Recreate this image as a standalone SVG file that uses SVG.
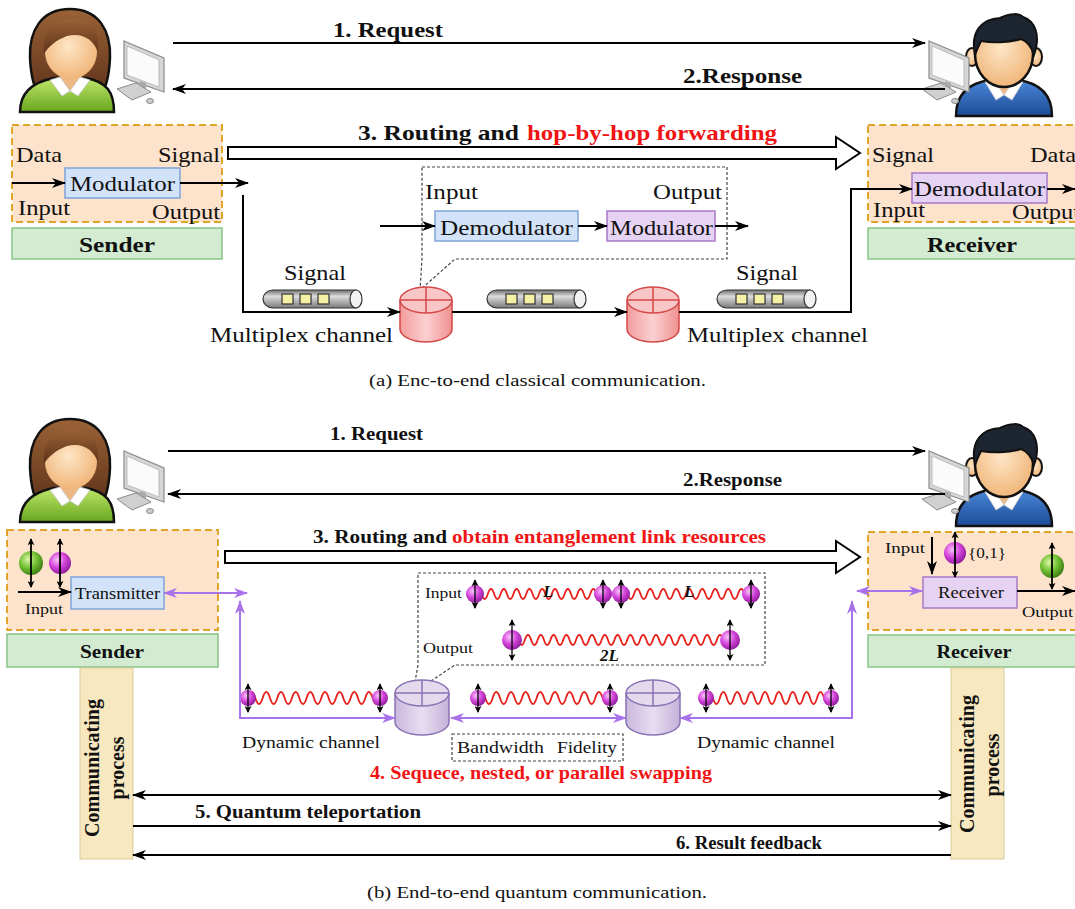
<svg xmlns="http://www.w3.org/2000/svg" width="1075" height="909" viewBox="0 0 1075 909">
<style>
 .t{font-family:"Liberation Serif","Times New Roman",serif;fill:#111}
 .b{font-weight:bold}
 .r{fill:#f01414}
 .ln{stroke:#000;stroke-width:2;fill:none}
 .pl{stroke:#a872ea;stroke-width:2;fill:none}
 .peach{fill:#fde2cc;stroke:#e0a528;stroke-width:2;stroke-dasharray:7 4}
 .grn{fill:#d3ebd1;stroke:#86c486;stroke-width:1.5}
 .blu{fill:#d2e2f8;stroke:#7fa4d8;stroke-width:1.5}
 .pur{fill:#e6d2f2;stroke:#a878c8;stroke-width:1.5}
 .dsh{fill:none;stroke:#444;stroke-width:1.2;stroke-dasharray:3 2}
 .wave{stroke:#e8201c;stroke-width:1.8;fill:none}
 .cp{fill:#f8e8bf;stroke:#d9c99a;stroke-width:1}
 .hol{fill:#fff;stroke:#000;stroke-width:2}
</style>
<defs>
 <marker id="ah" viewBox="0 0 14 10" refX="13" refY="5" markerWidth="14" markerHeight="10" markerUnits="userSpaceOnUse" orient="auto-start-reverse"><path d="M0,0 L14,5 L0,10 L4,5 Z" fill="#000"/></marker>
 <marker id="ap" viewBox="0 0 14 10" refX="13" refY="5" markerWidth="14" markerHeight="10" markerUnits="userSpaceOnUse" orient="auto-start-reverse"><path d="M0,0 L14,5 L0,10 L4,5 Z" fill="#a872ea"/></marker>
 <marker id="as" viewBox="0 0 8 8" refX="7" refY="4" markerWidth="7" markerHeight="7" markerUnits="userSpaceOnUse" orient="auto-start-reverse"><path d="M0,0 L8,4 L0,8 L2,4 Z" fill="#000"/></marker>
 <linearGradient id="gTube" x1="0" y1="0" x2="0" y2="1"><stop offset="0" stop-color="#6e6e6e"/><stop offset="0.35" stop-color="#dcdcdc"/><stop offset="1" stop-color="#7a7a7a"/></linearGradient>
 <linearGradient id="gRed" x1="0" y1="0" x2="1" y2="0"><stop offset="0" stop-color="#f39c9c"/><stop offset="0.5" stop-color="#fbd0d0"/><stop offset="1" stop-color="#f09090"/></linearGradient>
 <linearGradient id="gPurN" x1="0" y1="0" x2="1" y2="0"><stop offset="0" stop-color="#c9b8dc"/><stop offset="0.5" stop-color="#e8def2"/><stop offset="1" stop-color="#c4b2d8"/></linearGradient>
 <radialGradient id="gMag" cx="0.38" cy="0.35" r="0.7"><stop offset="0" stop-color="#f7c4f8"/><stop offset="0.5" stop-color="#d646dc"/><stop offset="1" stop-color="#8a1896"/></radialGradient>
 <radialGradient id="gGrn" cx="0.38" cy="0.35" r="0.7"><stop offset="0" stop-color="#dcf6a8"/><stop offset="0.5" stop-color="#74c234"/><stop offset="1" stop-color="#3a7812"/></radialGradient>
 <radialGradient id="gSkin" cx="0.45" cy="0.4" r="0.65"><stop offset="0" stop-color="#fee6c6"/><stop offset="1" stop-color="#efb274"/></radialGradient>
 <linearGradient id="gHairF" x1="0" y1="0" x2="0" y2="1"><stop offset="0" stop-color="#9a6236"/><stop offset="1" stop-color="#5e3219"/></linearGradient>
 <linearGradient id="gShirtG" x1="0" y1="0" x2="0" y2="1"><stop offset="0" stop-color="#bfe66a"/><stop offset="1" stop-color="#68a61e"/></linearGradient>
 <linearGradient id="gShirtB" x1="0" y1="0" x2="0" y2="1"><stop offset="0" stop-color="#4a86d8"/><stop offset="1" stop-color="#1d4c96"/></linearGradient>

 <g id="female">
  <path d="M70,9 C99,9 111,31 110,58 C109,78 105,90 100,96 L40,96 C35,90 31,78 30,58 C29,31 41,9 70,9 Z" fill="url(#gHairF)" stroke="#111" stroke-width="2.5"/>
  <path d="M20,112 C20,92 33,82 54,78 L86,78 C107,82 114,92 114,112 Z" fill="url(#gShirtG)" stroke="#111" stroke-width="2.5"/>
  <path d="M60,70 V80 L70,91 L80,80 V70 Z" fill="#eeb884"/>
  <path d="M50,80 L60,77 L70,91 L62,96 Z M90,80 L80,77 L70,91 L78,96 Z" fill="#fff" stroke="#c8c8c8" stroke-width="0.8"/>
  <ellipse cx="71" cy="52" rx="26" ry="27" fill="url(#gSkin)"/>
  <path d="M44,54 C42,30 56,19 72,19 C91,19 100,32 98,52 C93,39 82,32 67,36 C56,40 48,47 44,54 Z" fill="url(#gHairF)"/>
 </g>
 <g id="male">
  <path d="M956,116 C956,94 969,83 990,80 L1018,80 C1039,83 1052,94 1052,116 Z" fill="url(#gShirtB)" stroke="#111" stroke-width="2.5"/>
  <path d="M994,80 V86 L1004,95 L1014,86 V80 Z" fill="#eeb884"/>
  <path d="M985,82 L994,80 L1004,95 L996,100 Z M1023,82 L1014,80 L1004,95 L1012,100 Z" fill="#fff" stroke="#c8c8c8" stroke-width="0.8"/>
  <ellipse cx="972" cy="57" rx="6" ry="9" fill="url(#gSkin)" stroke="#111" stroke-width="2"/>
  <ellipse cx="1036" cy="57" rx="6" ry="9" fill="url(#gSkin)" stroke="#111" stroke-width="2"/>
  <ellipse cx="1004" cy="54" rx="29" ry="33" fill="url(#gSkin)" stroke="#111" stroke-width="2.5"/>
  <path d="M975,55 C970,31 982,19 1000,18 C1010,13 1020,13 1023,17 C1035,21 1041,35 1034,55 C1031,45 1027,41 1021,39 C1009,43 991,43 981,41 C979,45 977,49 975,55 Z" fill="#1c2530" stroke="#111" stroke-width="2"/>
 </g>
 <g id="pc">
  <polygon points="124,41 164,58 164,92 124,78" fill="#d6d6d6" stroke="#8a8a8a" stroke-width="1.2"/>
  <polygon points="127,46 159,60 159,87 127,75" fill="#fbfbfb" stroke="#b0b0b0" stroke-width="0.8"/>
  <polygon points="140,81 146,83 146,92 140,90" fill="#aaa"/>
  <polygon points="117,89 136,83 151,92 132,100" fill="#d0d0d0" stroke="#8a8a8a" stroke-width="1"/>
  <ellipse cx="150" cy="101" rx="3.5" ry="2.5" fill="#ccc" stroke="#8a8a8a"/>
 </g>
 <g id="tube">
  <path d="M10,0 H93 V18 H10 A10,9 0 0 1 10,0 Z" fill="url(#gTube)" stroke="#333" stroke-width="1.2"/>
  <ellipse cx="93" cy="9" rx="6" ry="9" fill="#f2f2f2" stroke="#333" stroke-width="1.2"/>
  <rect x="19" y="4" width="11" height="10" fill="#f4f0a6" stroke="#333" stroke-width="1.2"/>
  <rect x="37" y="4" width="11" height="10" fill="#f4f0a6" stroke="#333" stroke-width="1.2"/>
  <rect x="55" y="4" width="11" height="10" fill="#f4f0a6" stroke="#333" stroke-width="1.2"/>
 </g>
 <g id="rnode">
  <path d="M-26,13 V42 A26,13 0 0 0 26,42 V13" fill="url(#gRed)" stroke="#d44848" stroke-width="1.5"/>
  <ellipse cx="0" cy="13" rx="26" ry="13" fill="#f8c6c6" stroke="#d44848" stroke-width="1.5"/>
  <path d="M-26,13 H26 M0,0 V26" stroke="#d44848" stroke-width="1.5" fill="none"/>
 </g>
 <g id="pnode">
  <path d="M-27,13 V42 A27,13 0 0 0 27,42 V13" fill="url(#gPurN)" stroke="#8a72b4" stroke-width="1.5"/>
  <ellipse cx="0" cy="13" rx="27" ry="13" fill="#e4daee" stroke="#8a72b4" stroke-width="1.5"/>
  <path d="M-27,13 H27 M0,0 V26" stroke="#8a72b4" stroke-width="1.5" fill="none"/>
 </g>
 <g id="qs"><circle r="8" fill="url(#gMag)"/><line x1="0" y1="-14" x2="0" y2="14" stroke="#000" stroke-width="1.3" marker-start="url(#as)" marker-end="url(#as)"/></g>
 <g id="qm"><circle r="9" fill="url(#gMag)"/><line x1="0" y1="-14" x2="0" y2="14" stroke="#000" stroke-width="1.3" marker-start="url(#as)" marker-end="url(#as)"/></g>
 <g id="ql"><circle r="10" fill="url(#gMag)"/><line x1="0" y1="-20" x2="0" y2="20" stroke="#000" stroke-width="1.3" marker-start="url(#as)" marker-end="url(#as)"/></g>
</defs>

<rect width="1075" height="909" fill="#fff"/>

<!-- ===== (a) classical ===== -->
<g id="sender-user-a"><use href="#female"/><use href="#pc"/></g>
<g id="receiver-user-a"><use href="#male"/><use href="#pc" x="805"/></g>

<g id="sender-a">
 <rect class="peach" x="12" y="125" width="210" height="97"/>
 <rect class="grn" x="12" y="228" width="210" height="31"/>
 <rect class="blu" x="65" y="168" width="115" height="30"/>
 <text class="t" x="16" y="162" font-size="22" textLength="46" lengthAdjust="spacingAndGlyphs">Data</text>
 <text class="t" x="158" y="162" font-size="22" textLength="62" lengthAdjust="spacingAndGlyphs">Signal</text>
 <text class="t" x="70" y="191" font-size="22" textLength="105" lengthAdjust="spacingAndGlyphs">Modulator</text>
 <text class="t" x="18" y="215" font-size="22" textLength="52" lengthAdjust="spacingAndGlyphs">Input</text>
 <text class="t" x="152" y="219" font-size="22" textLength="68" lengthAdjust="spacingAndGlyphs">Output</text>
 <text class="t b" x="117" y="252" font-size="21" text-anchor="middle" textLength="76" lengthAdjust="spacingAndGlyphs">Sender</text>
</g>

<g id="receiver-a">
 <rect class="peach" x="868" y="125" width="215" height="97"/>
 <rect class="grn" x="868" y="228" width="215" height="31"/>
 <rect class="pur" x="912" y="173" width="135" height="30"/>
 <text class="t" x="872" y="162" font-size="22" textLength="62" lengthAdjust="spacingAndGlyphs">Signal</text>
 <text class="t" x="1030" y="162" font-size="22" textLength="46" lengthAdjust="spacingAndGlyphs">Data</text>
 <text class="t" x="914" y="196" font-size="22" textLength="131" lengthAdjust="spacingAndGlyphs">Demodulator</text>
 <text class="t" x="873" y="217" font-size="22" textLength="52" lengthAdjust="spacingAndGlyphs">Input</text>
 <text class="t" x="1012" y="219" font-size="22" textLength="68" lengthAdjust="spacingAndGlyphs">Output</text>
 <text class="t b" x="972" y="252" font-size="21" text-anchor="middle" textLength="90" lengthAdjust="spacingAndGlyphs">Receiver</text>
</g>

<g id="relay-detail-a">
 <path class="dsh" d="M422,167 H727 V259 H455 L420,290 L422,259 Z"/>
 <rect class="blu" x="435" y="211" width="143" height="30"/>
 <rect class="pur" x="607" y="211" width="108" height="30"/>
 <text class="t" x="425" y="199" font-size="22" textLength="53" lengthAdjust="spacingAndGlyphs">Input</text>
 <text class="t" x="653" y="199" font-size="22" textLength="69" lengthAdjust="spacingAndGlyphs">Output</text>
 <text class="t" x="440" y="235" font-size="22" textLength="133" lengthAdjust="spacingAndGlyphs">Demodulator</text>
 <text class="t" x="610" y="235" font-size="22" textLength="103" lengthAdjust="spacingAndGlyphs">Modulator</text>
</g>

<g id="channel-a">
 <use href="#tube" x="263" y="290"/>
 <use href="#tube" x="487" y="290"/>
 <use href="#tube" x="717" y="290"/>
 <text class="t" x="284" y="280" font-size="22" textLength="62" lengthAdjust="spacingAndGlyphs">Signal</text>
 <text class="t" x="736" y="280" font-size="22" textLength="62" lengthAdjust="spacingAndGlyphs">Signal</text>
 <text class="t" x="210" y="342" font-size="22" textLength="183" lengthAdjust="spacingAndGlyphs">Multiplex channel</text>
 <text class="t" x="687" y="342" font-size="22" textLength="181" lengthAdjust="spacingAndGlyphs">Multiplex channel</text>
</g>
<g id="router-a1"><use href="#rnode" x="426" y="287"/></g>
<g id="router-a2"><use href="#rnode" x="653" y="287"/></g>

<g id="connectors-a">
 <path class="ln" d="M173,43 H925" marker-end="url(#ah)"/>
 <path class="ln" d="M945,89 H173" marker-end="url(#ah)"/>
 <polygon class="hol" points="228,147 836,147 836,137 860,153 836,169 836,159 228,159"/>
 <path class="ln" d="M12,183 H65" marker-end="url(#ah)"/>
 <path class="ln" d="M180,183 H248" marker-end="url(#ah)"/>
 <path class="ln" d="M243,195 V312 H400" marker-end="url(#ah)"/>
 <path class="ln" d="M452,312 H627" marker-end="url(#ah)"/>
 <path class="ln" d="M679,312 H851 V189 H912" marker-end="url(#ah)"/>
 <path class="ln" d="M1047,189 H1075" marker-end="url(#ah)"/>
 <path class="ln" d="M380,226 H435" marker-end="url(#ah)"/>
 <path class="ln" d="M578,226 H607" marker-end="url(#ah)"/>
 <path class="ln" d="M715,226 H748" marker-end="url(#ah)"/>
</g>
<g id="labels-a">
 <text class="t b" x="333" y="37" font-size="22" textLength="110" lengthAdjust="spacingAndGlyphs">1. Request</text>
 <text class="t b" x="683" y="83" font-size="22" textLength="119" lengthAdjust="spacingAndGlyphs">2.Response</text>
 <text class="t b" x="358" y="140" font-size="22" textLength="161" lengthAdjust="spacingAndGlyphs">3. Routing and</text>
 <text class="t b r" x="527" y="140" font-size="22" textLength="250" lengthAdjust="spacingAndGlyphs">hop-by-hop forwarding</text>
 <text class="t" x="369" y="386" font-size="16" textLength="337" lengthAdjust="spacingAndGlyphs">(a)  Enc-to-end classical communication.</text>
</g>

<!-- ===== (b) quantum ===== -->
<g id="sender-user-b"><use href="#female" y="410"/><use href="#pc" y="410"/></g>
<g id="receiver-user-b"><use href="#male" y="410"/><use href="#pc" x="805" y="410"/></g>

<g id="sender-b">
 <rect class="peach" x="7" y="530" width="211" height="100"/>
 <rect class="grn" x="7" y="634" width="211" height="33"/>
 <rect class="blu" x="71" y="577" width="93" height="32"/>
 <circle cx="31" cy="563" r="12" fill="url(#gGrn)"/>
 <line x1="31" y1="539" x2="31" y2="587" stroke="#000" stroke-width="1.8" marker-start="url(#as)" marker-end="url(#as)"/>
 <circle cx="60" cy="563" r="11" fill="url(#gMag)"/>
 <line x1="60" y1="539" x2="60" y2="587" stroke="#000" stroke-width="1.8" marker-start="url(#as)" marker-end="url(#as)"/>
 <text class="t" x="75" y="599" font-size="16" textLength="85" lengthAdjust="spacingAndGlyphs">Transmitter</text>
 <text class="t" x="25" y="614" font-size="15" textLength="38" lengthAdjust="spacingAndGlyphs">Input</text>
 <text class="t b" x="112" y="658" font-size="19" text-anchor="middle" textLength="64" lengthAdjust="spacingAndGlyphs">Sender</text>
</g>

<g id="receiver-b">
 <rect class="peach" x="868" y="532" width="215" height="98"/>
 <rect class="grn" x="868" y="635" width="215" height="32"/>
 <rect class="pur" x="923" y="577" width="94" height="31"/>
 <circle cx="955" cy="553" r="11" fill="url(#gMag)"/>
 <line x1="955" y1="532" x2="955" y2="577" stroke="#000" stroke-width="1.8" marker-start="url(#as)" marker-end="url(#as)"/>
 <circle cx="1052" cy="566" r="12" fill="url(#gGrn)"/>
 <line x1="1052" y1="543" x2="1052" y2="589" stroke="#000" stroke-width="1.8" marker-start="url(#as)" marker-end="url(#as)"/>
 <text class="t" x="885" y="553" font-size="15" textLength="40" lengthAdjust="spacingAndGlyphs">Input</text>
 <text class="t" x="968" y="558" font-size="15" textLength="38" lengthAdjust="spacingAndGlyphs">{0,1}</text>
 <text class="t" x="938" y="598" font-size="16" textLength="66" lengthAdjust="spacingAndGlyphs">Receiver</text>
 <text class="t" x="1022" y="617" font-size="15" textLength="51" lengthAdjust="spacingAndGlyphs">Output</text>
 <text class="t b" x="974" y="658" font-size="19" text-anchor="middle" textLength="75" lengthAdjust="spacingAndGlyphs">Receiver</text>
</g>

<g id="swap-detail-b">
 <path class="dsh" d="M418,573 H765 V665 H455 L413,693 L418,665 Z"/>
 <text class="t" x="425" y="598" font-size="14" textLength="37" lengthAdjust="spacingAndGlyphs">Input</text>
 <text class="t" x="423" y="653" font-size="14" textLength="50" lengthAdjust="spacingAndGlyphs">Output</text>
 <path class="wave" d="M475,594 q3.2,-10 6.4,0 t6.4,0 t6.4,0 t6.4,0 t6.4,0 t6.4,0 t6.4,0 t6.4,0 t6.4,0 t6.4,0 t6.4,0 t6.4,0 t6.4,0 t6.4,0 t6.4,0 t6.4,0 t6.4,0 t6.4,0 t6.4,0 t6.4,0"/>
 <path class="wave" d="M621,594 q3.25,-10 6.5,0 t6.5,0 t6.5,0 t6.5,0 t6.5,0 t6.5,0 t6.5,0 t6.5,0 t6.5,0 t6.5,0 t6.5,0 t6.5,0 t6.5,0 t6.5,0 t6.5,0 t6.5,0 t6.5,0 t6.5,0 t6.5,0 t6.5,0"/>
 <path class="wave" d="M512,640 q3.2,-10 6.4,0 t6.4,0 t6.4,0 t6.4,0 t6.4,0 t6.4,0 t6.4,0 t6.4,0 t6.4,0 t6.4,0 t6.4,0 t6.4,0 t6.4,0 t6.4,0 t6.4,0 t6.4,0 t6.4,0 t6.4,0 t6.4,0 t6.4,0 t6.4,0 t6.4,0 t6.4,0 t6.4,0 t6.4,0 t6.4,0 t6.4,0 t6.4,0 t6.4,0 t6.4,0 t6.4,0 t6.4,0 t6.4,0 t6.4,0"/>
 <use href="#qm" x="475" y="594"/>
 <use href="#qm" x="603" y="594"/>
 <use href="#qm" x="621" y="594"/>
 <use href="#qm" x="751" y="594"/>
 <use href="#ql" x="512" y="640"/>
 <use href="#ql" x="730" y="640"/>
 <text class="t b" x="543" y="597" font-size="17" font-style="italic">L</text>
 <text class="t b" x="684" y="597" font-size="17" font-style="italic">L</text>
 <text class="t b" x="600" y="661" font-size="17" font-style="italic">2L</text>
</g>

<g id="channel-b">
 <path class="wave" d="M248,698 q3.67,-12 7.33,0 t7.33,0 t7.33,0 t7.33,0 t7.33,0 t7.33,0 t7.33,0 t7.33,0 t7.33,0 t7.33,0 t7.33,0 t7.33,0 t7.33,0 t7.33,0 t7.33,0 t7.33,0 t7.33,0 t7.33,0"/>
 <path class="wave" d="M478,698 q3.67,-12 7.33,0 t7.33,0 t7.33,0 t7.33,0 t7.33,0 t7.33,0 t7.33,0 t7.33,0 t7.33,0 t7.33,0 t7.33,0 t7.33,0 t7.33,0 t7.33,0 t7.33,0 t7.33,0 t7.33,0 t7.33,0"/>
 <path class="wave" d="M706,698 q3.47,-12 6.94,0 t6.94,0 t6.94,0 t6.94,0 t6.94,0 t6.94,0 t6.94,0 t6.94,0 t6.94,0 t6.94,0 t6.94,0 t6.94,0 t6.94,0 t6.94,0 t6.94,0 t6.94,0 t6.94,0 t6.94,0"/>
 <use href="#qs" x="248" y="698"/>
 <use href="#qs" x="380" y="698"/>
 <use href="#qs" x="478" y="698"/>
 <use href="#qs" x="610" y="698"/>
 <use href="#qs" x="706" y="698"/>
 <use href="#qs" x="831" y="698"/>
 <text class="t" x="242" y="748" font-size="16" textLength="138" lengthAdjust="spacingAndGlyphs">Dynamic channel</text>
 <text class="t" x="697" y="748" font-size="16" textLength="138" lengthAdjust="spacingAndGlyphs">Dynamic channel</text>
 <rect class="dsh" x="452" y="734" width="171" height="27"/>
 <text class="t" x="457" y="753" font-size="16" textLength="87" lengthAdjust="spacingAndGlyphs">Bandwidth</text>
 <text class="t" x="557" y="753" font-size="16" textLength="60" lengthAdjust="spacingAndGlyphs">Fidelity</text>
</g>
<g id="repeater-b1"><use href="#pnode" x="422" y="680"/></g>
<g id="repeater-b2"><use href="#pnode" x="653" y="680"/></g>

<g id="process-sender">
 <rect class="cp" x="80" y="668" width="53" height="191"/>
 <text class="t b" transform="translate(99,768) rotate(-90)" font-size="20" text-anchor="middle">Communicating</text>
 <text class="t b" transform="translate(124,768) rotate(-90)" font-size="20" text-anchor="middle">process</text>
</g>
<g id="process-receiver">
 <rect class="cp" x="951" y="668" width="53" height="191"/>
 <text class="t b" transform="translate(974,764) rotate(-90)" font-size="20" text-anchor="middle">Communicating</text>
 <text class="t b" transform="translate(999,765) rotate(-90)" font-size="20" text-anchor="middle">process</text>
</g>

<g id="connectors-b">
 <path class="ln" d="M168,451 H925" marker-end="url(#ah)"/>
 <path class="ln" d="M945,494 H168" marker-end="url(#ah)"/>
 <polygon class="hol" points="225,551 836,551 836,541 860,557 836,573 836,563 225,563"/>
 <path class="ln" d="M18,592 H71" marker-end="url(#ah)"/>
 <path class="ln" d="M932,537 V574" marker-end="url(#ah)"/>
 <path class="ln" d="M1017,591 H1075" marker-end="url(#ah)"/>
 <path class="pl" d="M164,593 H247" marker-start="url(#ap)" marker-end="url(#ap)"/>
 <path class="pl" d="M240,601 V718 H395" marker-start="url(#ap)" marker-end="url(#ap)"/>
 <path class="pl" d="M451,718 H626" marker-start="url(#ap)" marker-end="url(#ap)"/>
 <path class="pl" d="M852,601 V718 H680" marker-start="url(#ap)" marker-end="url(#ap)"/>
 <path class="pl" d="M857,591 H922" marker-start="url(#ap)" marker-end="url(#ap)"/>
 <path class="ln" d="M133,795 H951" marker-start="url(#ah)" marker-end="url(#ah)"/>
 <path class="ln" d="M133,826 H951" marker-end="url(#ah)"/>
 <path class="ln" d="M951,855 H133" marker-end="url(#ah)"/>
</g>
<g id="labels-b">
 <text class="t b" x="330" y="440" font-size="19" textLength="93" lengthAdjust="spacingAndGlyphs">1. Request</text>
 <text class="t b" x="683" y="486" font-size="19" textLength="99" lengthAdjust="spacingAndGlyphs">2.Response</text>
 <text class="t b" x="313" y="543" font-size="19" textLength="134" lengthAdjust="spacingAndGlyphs">3. Routing and</text>
 <text class="t b r" x="452" y="543" font-size="19" textLength="314" lengthAdjust="spacingAndGlyphs">obtain entanglement link resources</text>
 <text class="t b r" x="370" y="779" font-size="19" textLength="342" lengthAdjust="spacingAndGlyphs">4. Sequece, nested, or parallel swapping</text>
 <text class="t b" x="195" y="818" font-size="19" textLength="226" lengthAdjust="spacingAndGlyphs">5. Quantum teleportation</text>
 <text class="t b" x="676" y="849" font-size="19" textLength="146" lengthAdjust="spacingAndGlyphs">6. Result feedback</text>
 <text class="t" x="367" y="898" font-size="16" textLength="340" lengthAdjust="spacingAndGlyphs">(b)  End-to-end quantum communication.</text>
</g>
</svg>
